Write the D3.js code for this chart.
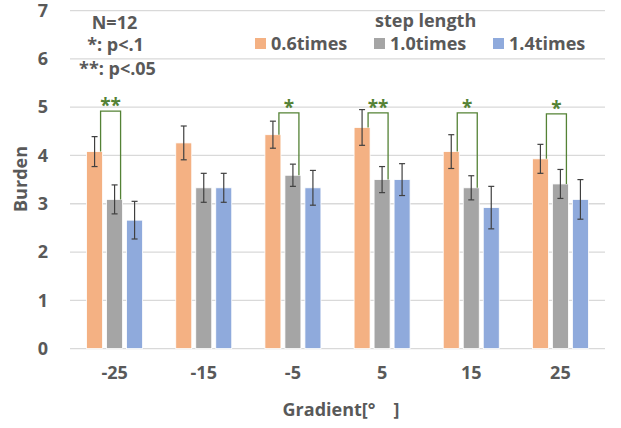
<!DOCTYPE html>
<html>
<head>
<meta charset="utf-8">
<script src="https://cdn.jsdelivr.net/npm/d3@7"></script>
<style>
  body { margin: 0; background: #fff; }
  text { font-family: "Open Sans", sans-serif; font-weight: bold; fill: #595959; }
</style>
</head>
<body>
<script>
// data
var categories = ["-25", "-15", "-5", "5", "15", "25"];
var seriesNames = ["0.6times", "1.0times", "1.4times"];
var burden06 = [4.08, 4.26, 4.43, 4.58, 4.08, 3.93];
var burden10 = [3.09, 3.33, 3.59, 3.50, 3.33, 3.41];
var burden14 = [2.66, 3.33, 3.33, 3.50, 2.92, 3.09];
var err06 = [0.31, 0.35, 0.28, 0.37, 0.35, 0.30];
var err10 = [0.30, 0.30, 0.23, 0.27, 0.25, 0.30];
var err14 = [0.39, 0.30, 0.36, 0.33, 0.44, 0.41];
var sigMarks = ["**", "", "*", "**", "*", "*"];
var sigLevel = [4.92, null, 4.88, 4.88, 4.88, 4.86];
var yTicks = [0, 1, 2, 3, 4, 5, 6, 7];

var colors = ["#F4B183", "#A5A5A5", "#8FAADC"];
var W = 621, H = 428;

var svg = d3.select("body").append("svg").attr("width", W).attr("height", H);

var y = d3.scaleLinear().domain([0, 7]).range([348.6, 10.6]);
var x0 = d3.scaleBand().domain(categories).range([70, 605]);
var x1 = d3.scaleBand().domain(seriesNames).range([-28, 28]).paddingInner(0.2);

var values = [burden06, burden10, burden14];
var errs = [err06, err10, err14];

// gridlines
svg.append("g").selectAll("line").data(yTicks).enter().append("line")
  .attr("x1", 70).attr("x2", 605)
  .attr("y1", function(d){ return y(d); }).attr("y2", function(d){ return y(d); })
  .attr("stroke", "#D9D9D9").attr("stroke-width", 1.3);

// y axis labels
var yAxis = d3.axisLeft(y).tickValues(yTicks).tickFormat(d3.format("d")).tickSize(0).tickPadding(0);
var yg = svg.append("g").attr("transform", "translate(48,0)").call(yAxis);
yg.select(".domain").remove();
yg.selectAll("text").attr("fill", "#595959")
  .style("font-size", "18px").style("font-family", "'Open Sans', sans-serif").style("font-weight", "bold");

// x axis labels
var xAxis = d3.axisBottom(x0).tickSize(0).tickPadding(0);
var xg = svg.append("g").attr("transform", "translate(0,366)").call(xAxis);
xg.select(".domain").remove();
xg.selectAll("text").attr("fill", "#595959")
  .style("font-size", "18px").style("font-family", "'Open Sans', sans-serif").style("font-weight", "bold");

// bars
var rows = [];
categories.forEach(function(c, i){
  seriesNames.forEach(function(s, j){
    rows.push({cat: c, s: s, j: j, v: values[j][i], e: errs[j][i]});
  });
});
function cx(d){ return x0(d.cat) + x0.bandwidth() / 2 + x1(d.s) + x1.bandwidth() / 2; }

svg.append("g").selectAll("rect").data(rows).enter().append("rect")
  .attr("x", function(d){ return cx(d) - x1.bandwidth() / 2; })
  .attr("width", x1.bandwidth())
  .attr("y", function(d){ return y(d.v); })
  .attr("height", function(d){ return y(0) - y(d.v); })
  .attr("fill", function(d){ return colors[d.j]; })
  .attr("stroke", "#fff").attr("stroke-width", 0.8);

// error bars
var eg = svg.append("g").attr("stroke", "#404040").attr("stroke-width", 1.2);
rows.forEach(function(d){
  var c = cx(d);
  eg.append("line").attr("x1", c).attr("x2", c).attr("y1", y(d.v + d.e)).attr("y2", y(d.v - d.e));
  eg.append("line").attr("x1", c - 3).attr("x2", c + 3).attr("y1", y(d.v + d.e)).attr("y2", y(d.v + d.e));
  eg.append("line").attr("x1", c - 3).attr("x2", c + 3).attr("y1", y(d.v - d.e)).attr("y2", y(d.v - d.e));
});

// significance brackets
categories.forEach(function(c, i){
  if (!sigMarks[i]) return;
  var xa = x0(c) + x0.bandwidth() / 2 + x1(seriesNames[0]) + x1.bandwidth() / 2 + 6;
  var xb = x0(c) + x0.bandwidth() / 2 + x1(seriesNames[1]) + x1.bandwidth() / 2 + 6;
  var yt = y(sigLevel[i]);
  svg.append("path")
    .attr("d", "M" + xa + "," + y(burden06[i]) + "V" + yt + "H" + xb + "V" + y(burden10[i]))
    .attr("fill", "none").attr("stroke", "#548235").attr("stroke-width", 1.3);
  svg.append("text").attr("x", (xa + xb) / 2).attr("y", yt + 1)
    .attr("text-anchor", "middle").style("font-size", "19px").style("fill", "#548235")
    .text(sigMarks[i]);
});

// notes
var notes = [["N=12", 114.5, 29], ["*: p<.1", 115.5, 51], ["**: p<.05", 117.5, 75]];
notes.forEach(function(n){
  svg.append("text").attr("x", n[1]).attr("y", n[2]).attr("text-anchor", "middle")
    .style("font-size", "18px").text(n[0]);
});

// legend
svg.append("text").attr("x", 375).attr("y", 27).style("font-size", "18px").text("step length");
var legX = [255, 374, 493];
seriesNames.forEach(function(s, j){
  svg.append("rect").attr("x", legX[j]).attr("y", 38).attr("width", 11).attr("height", 11).attr("fill", colors[j]);
  svg.append("text").attr("x", legX[j] + 16).attr("y", 49.5).style("font-size", "18px").text(s);
});

// axis titles
svg.append("text").attr("transform", "translate(27,179) rotate(-90)").attr("text-anchor", "middle")
  .style("font-size", "18px").text("Burden");
svg.append("text").attr("x", 341).attr("y", 416).attr("text-anchor", "middle")
  .style("font-size", "18px").text("Gradient[°\u3000]");
</script>
</body>
</html>
